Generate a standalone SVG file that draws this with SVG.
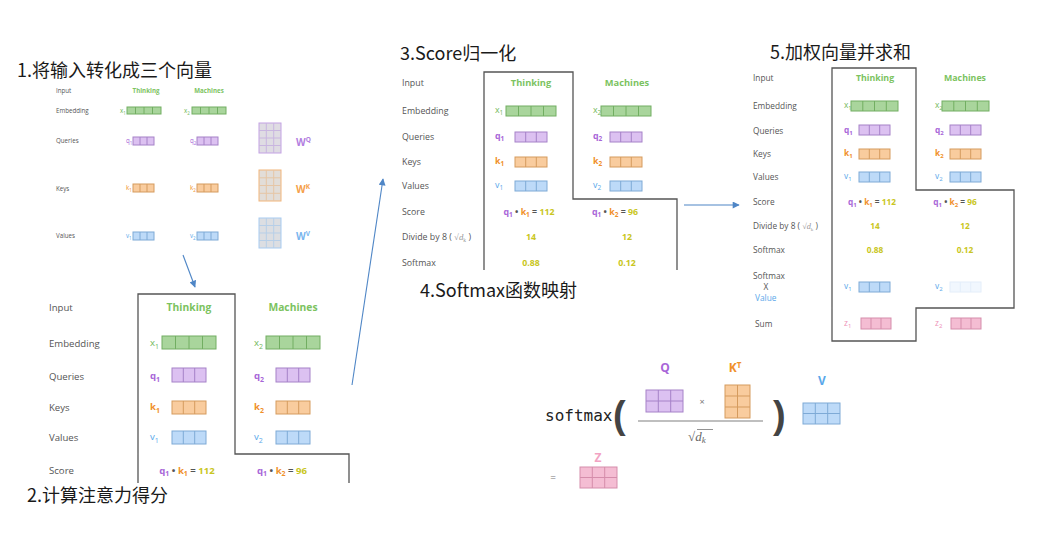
<svg xmlns="http://www.w3.org/2000/svg" width="1043" height="544" viewBox="0 0 1043 544">
<style>
text{font-family:"Open Sans","Liberation Sans",sans-serif;}
text.mono{font-family:"DejaVu Sans Mono","Liberation Mono",monospace;}
text.serif,tspan.serif{font-family:"Liberation Serif","DejaVu Serif",serif;}
text.paren{font-family:"Liberation Sans",sans-serif;}
.title{font-family:"Noto Sans CJK SC","Noto Sans",sans-serif;font-size:18px;fill:#1a1a1a;}
.lab{fill:#555;}
.th{fill:#7cc35f;font-weight:bold;}
.cg{fill:#72b85a;} .cp{fill:#a866d8;} .co{fill:#f0902a;} .cb{fill:#5aa8ea;} .cy{fill:#c9c622;} .ck{fill:#ee8fb6;} .cd{fill:#555;}
.bold{font-weight:bold;}
.g rect{fill:#a9d59c;stroke:#72ae62;} .g path{stroke:#72ae62;}
.p rect{fill:#dcc1f1;stroke:#a682c8;} .p path{stroke:#a682c8;}
.o rect{fill:#f9cc9e;stroke:#d59b5e;} .o path{stroke:#d59b5e;}
.b rect{fill:#bddaf8;stroke:#7eaad6;} .b path{stroke:#7eaad6;}
.k rect{fill:#f4bdd3;stroke:#d58dab;} .k path{stroke:#d58dab;}
.f rect{fill:#f1f7fe;stroke:#e4eefa;} .f path{stroke:#e4eefa;}
.wq rect{fill:#dfdce3;stroke:#c3a2e4;} .wq path{stroke:#c9b6e0;}
.wk rect{fill:#e2ddd8;stroke:#f2b57a;} .wk path{stroke:#e6c6a6;}
.wv rect{fill:#dcdee2;stroke:#a7cbf1;} .wv path{stroke:#b7cfe8;}
g.g path,g.p path,g.o path,g.b path,g.k path,g.f path,g.wq path,g.wk path,g.wv path{fill:none;stroke-width:1;}
.panel{fill:none;stroke:#555;stroke-width:1.3;}
.conn{fill:none;stroke:#4f86c6;stroke-width:1.1;}
</style>
<defs>
<marker id="ah" viewBox="0 0 10 10" refX="9" refY="5" markerWidth="8" markerHeight="7" markerUnits="userSpaceOnUse" orient="auto">
<path d="M0,0 L10,5 L0,10 Z" fill="#4f86c6"/>
</marker>
</defs>
<rect width="1043" height="544" fill="#fff"/>

<!-- Panel 1 -->
<g id="step1">
<text class="title" x="17" y="77">1.将输入转化成三个向量</text>
<g font-size="6.2">
<text class="lab" x="56" y="93">Input</text>
<text class="th" x="146" y="93" text-anchor="middle">Thinking</text>
<text class="th" x="209" y="93" text-anchor="middle">Machines</text>
<text class="lab" x="56" y="113">Embedding</text>
<text class="lab" x="56" y="143">Queries</text>
<text class="lab" x="56" y="191">Keys</text>
<text class="lab" x="56" y="238">Values</text>
<text class="cg" x="120" y="113">x<tspan font-size="4.5" dy="1.5">1</tspan></text>
<text class="cg" x="184" y="113">x<tspan font-size="4.5" dy="1.5">2</tspan></text>
<text class="cp" x="126" y="143">q<tspan font-size="4.5" dy="1.5">1</tspan></text>
<text class="cp" x="190" y="143">q<tspan font-size="4.5" dy="1.5">2</tspan></text>
<text class="co" x="126" y="190">k<tspan font-size="4.5" dy="1.5">1</tspan></text>
<text class="co" x="190" y="190">k<tspan font-size="4.5" dy="1.5">2</tspan></text>
<text class="cb" x="126" y="238">v<tspan font-size="4.5" dy="1.5">1</tspan></text>
<text class="cb" x="190" y="238">v<tspan font-size="4.5" dy="1.5">2</tspan></text>
</g>
<g class="g"><rect x="127" y="107" width="34" height="7"/><path d="M135.5,107v7M144,107v7M152.5,107v7"/></g>
<g class="g"><rect x="192" y="107" width="34" height="7"/><path d="M200.5,107v7M209,107v7M217.5,107v7"/></g>
<g class="p"><rect x="133" y="137" width="21" height="8"/><path d="M140,137v8M147,137v8"/></g>
<g class="p"><rect x="197" y="137" width="21" height="8"/><path d="M204,137v8M211,137v8"/></g>
<g class="o"><rect x="133" y="184" width="21" height="8"/><path d="M140,184v8M147,184v8"/></g>
<g class="o"><rect x="197" y="184" width="21" height="8"/><path d="M204,184v8M211,184v8"/></g>
<g class="b"><rect x="133" y="232" width="21" height="8"/><path d="M140,232v8M147,232v8"/></g>
<g class="b"><rect x="197" y="232" width="21" height="8"/><path d="M204,232v8M211,232v8"/></g>
<g class="wq"><rect x="259" y="123" width="22" height="30"/><path d="M266.3,123v30M273.7,123v30M259,130.5h22M259,138h22M259,145.5h22"/></g>
<g class="wk"><rect x="259" y="170" width="22" height="31"/><path d="M266.3,170v31M273.7,170v31M259,177.8h22M259,185.5h22M259,193.3h22"/></g>
<g class="wv"><rect x="259" y="218" width="22" height="30"/><path d="M266.3,218v30M273.7,218v30M259,225.5h22M259,233h22M259,240.5h22"/></g>
<text x="296" y="146" font-size="10" fill="#b27ee0" font-weight="bold">W<tspan font-size="6.5" dy="-4">Q</tspan></text>
<text x="296" y="193" font-size="10" fill="#f5a04a" font-weight="bold">W<tspan font-size="6.5" dy="-4">K</tspan></text>
<text x="296" y="240" font-size="10" fill="#79b5ee" font-weight="bold">W<tspan font-size="6.5" dy="-4">V</tspan></text>
</g>

<!-- Panel 2 -->
<g id="step2">
<path class="panel" d="M138,483V294H235V454H349V483"/>
<g font-size="9.6">
<text class="lab" x="49" y="311">Input</text>
<text class="th" x="189" y="311" text-anchor="middle" font-size="10.3">Thinking</text>
<text class="th" x="293" y="311" text-anchor="middle" font-size="10.3">Machines</text>
<text class="lab" x="49" y="347">Embedding</text>
<text class="lab" x="49" y="380">Queries</text>
<text class="lab" x="49" y="411">Keys</text>
<text class="lab" x="49" y="441">Values</text>
<text class="lab" x="49" y="474">Score</text>
<text class="cg" x="150" y="346">x<tspan font-size="7" dy="2.5">1</tspan></text>
<text class="cg" x="254" y="346">x<tspan font-size="7" dy="2.5">2</tspan></text>
<text class="cp bold" x="150" y="379">q<tspan font-size="7" dy="2.5">1</tspan></text>
<text class="cp bold" x="254" y="379">q<tspan font-size="7" dy="2.5">2</tspan></text>
<text class="co bold" x="150" y="410">k<tspan font-size="7" dy="2.5">1</tspan></text>
<text class="co bold" x="254" y="410">k<tspan font-size="7" dy="2.5">2</tspan></text>
<text class="cb" x="150" y="440">v<tspan font-size="7" dy="2.5">1</tspan></text>
<text class="cb" x="254" y="440">v<tspan font-size="7" dy="2.5">2</tspan></text>
<text class="bold" x="187" y="474" text-anchor="middle"><tspan class="cp">q</tspan><tspan class="cp" font-size="7" dy="2">1</tspan><tspan class="cd" dy="-2"> • </tspan><tspan class="co">k</tspan><tspan class="co" font-size="7" dy="2">1</tspan><tspan class="cd" dy="-2"> = </tspan><tspan class="cy">112</tspan></text>
<text class="bold" x="282" y="474" text-anchor="middle"><tspan class="cp">q</tspan><tspan class="cp" font-size="7" dy="2">1</tspan><tspan class="cd" dy="-2"> • </tspan><tspan class="co">k</tspan><tspan class="co" font-size="7" dy="2">2</tspan><tspan class="cd" dy="-2"> = </tspan><tspan class="cy">96</tspan></text>
</g>
<g class="g"><rect x="162" y="336" width="54" height="13"/><path d="M175.5,336v13M189,336v13M202.5,336v13"/></g>
<g class="g"><rect x="266" y="336" width="54" height="13"/><path d="M279.5,336v13M293,336v13M306.5,336v13"/></g>
<g class="p"><rect x="172" y="368" width="34" height="14"/><path d="M183.3,368v14M194.7,368v14"/></g>
<g class="p"><rect x="276" y="368" width="34" height="14"/><path d="M287.3,368v14M298.7,368v14"/></g>
<g class="o"><rect x="172" y="401" width="34" height="13"/><path d="M183.3,401v13M194.7,401v13"/></g>
<g class="o"><rect x="276" y="401" width="34" height="13"/><path d="M287.3,401v13M298.7,401v13"/></g>
<g class="b"><rect x="172" y="431" width="34" height="13"/><path d="M183.3,431v13M194.7,431v13"/></g>
<g class="b"><rect x="276" y="431" width="34" height="13"/><path d="M287.3,431v13M298.7,431v13"/></g>
<text class="title" x="27" y="502">2.计算注意力得分</text>
</g>

<!-- Panel 3 -->
<g id="step3">
<text class="title" x="400" y="60">3.Score归一化</text>
<path class="panel" d="M484,270V72H573V199H677V270"/>
<g font-size="8.8">
<text class="lab" x="402" y="86">Input</text>
<text class="th" x="531" y="86" text-anchor="middle" font-size="9.3">Thinking</text>
<text class="th" x="627" y="86" text-anchor="middle" font-size="9.3">Machines</text>
<text class="lab" x="402" y="114">Embedding</text>
<text class="lab" x="402" y="140">Queries</text>
<text class="lab" x="402" y="165">Keys</text>
<text class="lab" x="402" y="189">Values</text>
<text class="lab" x="402" y="215">Score</text>
<text class="lab" x="402" y="240">Divide by 8 ( <tspan class="serif" fill="#999">√<tspan font-style="italic">d</tspan><tspan font-size="5.5" dy="1.5">k</tspan></tspan><tspan dy="-1.5"> )</tspan></text>
<text class="lab" x="402" y="266">Softmax</text>
<text class="cg" x="495" y="113">x<tspan font-size="6.5" dy="2">1</tspan></text>
<text class="cg" x="593" y="113">x<tspan font-size="6.5" dy="2">2</tspan></text>
<text class="cp bold" x="495" y="139">q<tspan font-size="6.5" dy="2">1</tspan></text>
<text class="cp bold" x="593" y="139">q<tspan font-size="6.5" dy="2">2</tspan></text>
<text class="co bold" x="495" y="164">k<tspan font-size="6.5" dy="2">1</tspan></text>
<text class="co bold" x="593" y="164">k<tspan font-size="6.5" dy="2">2</tspan></text>
<text class="cb" x="495" y="188">v<tspan font-size="6.5" dy="2">1</tspan></text>
<text class="cb" x="593" y="188">v<tspan font-size="6.5" dy="2">2</tspan></text>
<text class="bold" x="529" y="215" text-anchor="middle"><tspan class="cp">q</tspan><tspan class="cp" font-size="6.5" dy="2">1</tspan><tspan class="cd" dy="-2"> • </tspan><tspan class="co">k</tspan><tspan class="co" font-size="6.5" dy="2">1</tspan><tspan class="cd" dy="-2"> = </tspan><tspan class="cy">112</tspan></text>
<text class="bold" x="615" y="215" text-anchor="middle"><tspan class="cp">q</tspan><tspan class="cp" font-size="6.5" dy="2">1</tspan><tspan class="cd" dy="-2"> • </tspan><tspan class="co">k</tspan><tspan class="co" font-size="6.5" dy="2">2</tspan><tspan class="cd" dy="-2"> = </tspan><tspan class="cy">96</tspan></text>
<text class="cy bold" x="531" y="240" text-anchor="middle">14</text>
<text class="cy bold" x="627" y="240" text-anchor="middle">12</text>
<text class="cy bold" x="531" y="266" text-anchor="middle">0.88</text>
<text class="cy bold" x="627" y="266" text-anchor="middle">0.12</text>
</g>
<g class="g"><rect x="506" y="106" width="50" height="10"/><path d="M518.5,106v10M531,106v10M543.5,106v10"/></g>
<g class="g"><rect x="601" y="106" width="50" height="10"/><path d="M613.5,106v10M626,106v10M638.5,106v10"/></g>
<g class="p"><rect x="515" y="132" width="32" height="10"/><path d="M525.7,132v10M536.3,132v10"/></g>
<g class="p"><rect x="610" y="132" width="32" height="10"/><path d="M620.7,132v10M631.3,132v10"/></g>
<g class="o"><rect x="515" y="157" width="32" height="10"/><path d="M525.7,157v10M536.3,157v10"/></g>
<g class="o"><rect x="610" y="157" width="32" height="10"/><path d="M620.7,157v10M631.3,157v10"/></g>
<g class="b"><rect x="515" y="181" width="32" height="10"/><path d="M525.7,181v10M536.3,181v10"/></g>
<g class="b"><rect x="610" y="181" width="32" height="10"/><path d="M620.7,181v10M631.3,181v10"/></g>
<text class="title" x="420" y="297">4.Softmax函数映射</text>
</g>

<!-- Panel 5 -->
<g id="step5">
<text class="title" x="770" y="59">5.加权向量并求和</text>
<path class="panel" d="M832,68H916V190H1014V308H916V341H832Z"/>
<g font-size="8.3">
<text class="lab" x="753" y="81">Input</text>
<text class="th" x="875" y="81" text-anchor="middle" font-size="8.8">Thinking</text>
<text class="th" x="965" y="81" text-anchor="middle" font-size="8.8">Machines</text>
<text class="lab" x="753" y="109">Embedding</text>
<text class="lab" x="753" y="134">Queries</text>
<text class="lab" x="753" y="157">Keys</text>
<text class="lab" x="753" y="180">Values</text>
<text class="lab" x="753" y="205">Score</text>
<text class="lab" x="753" y="229">Divide by 8 ( <tspan class="serif" fill="#999">√<tspan font-style="italic">d</tspan><tspan font-size="5" dy="1.5">k</tspan></tspan><tspan dy="-1.5"> )</tspan></text>
<text class="lab" x="753" y="253">Softmax</text>
<text class="lab" x="753" y="279">Softmax</text>
<text class="lab" x="766" y="290" text-anchor="middle">X</text>
<text class="cb" x="755" y="301">Value</text>
<text class="lab" x="755" y="327">Sum</text>
<text class="cg" x="844" y="108">x<tspan font-size="6" dy="2">1</tspan></text>
<text class="cg" x="935" y="108">x<tspan font-size="6" dy="2">2</tspan></text>
<text class="cp bold" x="844" y="133">q<tspan font-size="6" dy="2">1</tspan></text>
<text class="cp bold" x="935" y="133">q<tspan font-size="6" dy="2">2</tspan></text>
<text class="co bold" x="844" y="156">k<tspan font-size="6" dy="2">1</tspan></text>
<text class="co bold" x="935" y="156">k<tspan font-size="6" dy="2">2</tspan></text>
<text class="cb" x="844" y="179">v<tspan font-size="6" dy="2">1</tspan></text>
<text class="cb" x="935" y="179">v<tspan font-size="6" dy="2">2</tspan></text>
<text class="bold" x="872" y="205" text-anchor="middle"><tspan class="cp">q</tspan><tspan class="cp" font-size="6" dy="2">1</tspan><tspan class="cd" dy="-2"> • </tspan><tspan class="co">k</tspan><tspan class="co" font-size="6" dy="2">1</tspan><tspan class="cd" dy="-2"> = </tspan><tspan class="cy">112</tspan></text>
<text class="bold" x="955" y="205" text-anchor="middle"><tspan class="cp">q</tspan><tspan class="cp" font-size="6" dy="2">1</tspan><tspan class="cd" dy="-2"> • </tspan><tspan class="co">k</tspan><tspan class="co" font-size="6" dy="2">2</tspan><tspan class="cd" dy="-2"> = </tspan><tspan class="cy">96</tspan></text>
<text class="cy bold" x="875" y="229" text-anchor="middle">14</text>
<text class="cy bold" x="965" y="229" text-anchor="middle">12</text>
<text class="cy bold" x="875" y="253" text-anchor="middle">0.88</text>
<text class="cy bold" x="965" y="253" text-anchor="middle">0.12</text>
<text class="cb" x="844" y="289">v<tspan font-size="6" dy="2">1</tspan></text>
<text class="cb" x="935" y="289">v<tspan font-size="6" dy="2">2</tspan></text>
<text class="ck" x="844" y="326">z<tspan font-size="6" dy="2">1</tspan></text>
<text class="ck" x="935" y="326">z<tspan font-size="6" dy="2">2</tspan></text>
</g>
<g class="g"><rect x="851" y="101" width="47" height="10"/><path d="M862.8,101v10M874.5,101v10M886.3,101v10"/></g>
<g class="g"><rect x="942" y="101" width="47" height="10"/><path d="M953.8,101v10M965.5,101v10M977.3,101v10"/></g>
<g class="p"><rect x="859" y="125" width="31" height="10"/><path d="M869.3,125v10M879.7,125v10"/></g>
<g class="p"><rect x="950" y="125" width="31" height="10"/><path d="M960.3,125v10M970.7,125v10"/></g>
<g class="o"><rect x="859" y="149" width="31" height="10"/><path d="M869.3,149v10M879.7,149v10"/></g>
<g class="o"><rect x="950" y="149" width="31" height="10"/><path d="M960.3,149v10M970.7,149v10"/></g>
<g class="b"><rect x="859" y="172" width="31" height="10"/><path d="M869.3,172v10M879.7,172v10"/></g>
<g class="b"><rect x="950" y="172" width="31" height="10"/><path d="M960.3,172v10M970.7,172v10"/></g>
<g class="b"><rect x="859" y="282" width="31" height="10"/><path d="M869.3,282v10M879.7,282v10"/></g>
<g class="f"><rect x="950" y="282" width="31" height="10"/><path d="M960.3,282v10M970.7,282v10"/></g>
<g class="k"><rect x="861" y="318" width="30" height="11"/><path d="M871,318v11M881,318v11"/></g>
<g class="k"><rect x="951" y="318" width="30" height="11"/><path d="M961,318v11M971,318v11"/></g>
</g>

<!-- Formula -->
<g id="formula">
<text x="665" y="372" text-anchor="middle" font-size="12" font-weight="bold" fill="#a866d8">Q</text>
<text x="735" y="372" text-anchor="middle" font-size="12" font-weight="bold" fill="#f0902a">K<tspan font-size="8" dy="-4">T</tspan></text>
<text x="822" y="385" text-anchor="middle" font-size="12" font-weight="bold" fill="#5aa8ea">V</text>
<text class="mono" x="545" y="421" font-size="16" fill="#222">softmax</text>
<text class="paren" x="613" y="428" font-size="38" font-weight="bold" fill="#444">(</text>
<text class="paren" x="773" y="428" font-size="38" font-weight="bold" fill="#444">)</text>
<g class="p"><rect x="646" y="390" width="37" height="22"/><path d="M658.3,390v22M670.7,390v22M646,401h37"/></g>
<text x="702" y="405" text-anchor="middle" font-size="9" fill="#777">×</text>
<g class="o"><rect x="725" y="385" width="25" height="33"/><path d="M737.5,385v33M725,396h25M725,407h25"/></g>
<path d="M638,421H763" stroke="#aaa" stroke-width="1.5" fill="none"/>
<text class="serif" x="688" y="441" font-size="13" fill="#666">√<tspan font-style="italic">d</tspan><tspan font-style="italic" font-size="9" dy="2">k</tspan></text>
<path d="M697,429.5H713" stroke="#777" stroke-width="0.8" fill="none"/>
<g class="b"><rect x="803" y="403" width="37" height="21"/><path d="M815.3,403v21M827.7,403v21M803,413.5h37"/></g>
<text x="598" y="462" text-anchor="middle" font-size="12" font-weight="bold" fill="#f2a3c3">Z</text>
<text x="553" y="481" text-anchor="middle" font-size="10" fill="#777">=</text>
<g class="k"><rect x="580" y="467" width="37" height="21"/><path d="M592.3,467v21M604.7,467v21M580,477.5h37"/></g>
</g>

<!-- Connectors -->
<g id="connectors">
<path class="conn" d="M183,255L195,287" marker-end="url(#ah)"/>
<path class="conn" d="M352,385L383,179" marker-end="url(#ah)"/>
<path class="conn" d="M684,205H739" marker-end="url(#ah)"/>
</g>
</svg>
